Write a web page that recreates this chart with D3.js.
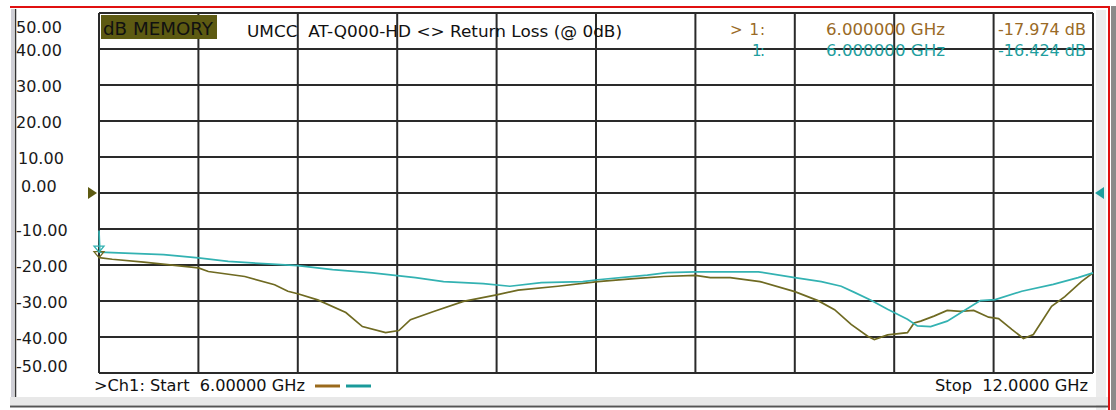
<!DOCTYPE html>
<html>
<head>
<meta charset="utf-8">
<script src="https://cdn.jsdelivr.net/npm/d3@7"></script>
<style>
  html, body { margin: 0; padding: 0; background: #fff; }
  #svg-container { width: 1116px; height: 410px; }
  svg { display: block; font-family: "DejaVu Sans", sans-serif; }
  text { white-space: pre; }
</style>
</head>
<body>
<div id="svg-container"></div>
<script>
////////////////////////////////////////////////////////////////////
////////////////////////////  Data  ////////////////////////////////
// memory trace (olive), [GHz, dB]
const memoryTrace = [
  [6.00, -17.97], [6.08, -18.4], [6.27, -19.2], [6.60, -20.8], [6.66, -21.8],
  [6.88, -23.2], [7.06, -25.5], [7.14, -27.3], [7.20, -28.0], [7.32, -29.7],
  [7.49, -33.2], [7.59, -37.1], [7.73, -38.8], [7.81, -38.2], [7.88, -35.2],
  [8.02, -32.9], [8.20, -30.1], [8.40, -28.3], [8.53, -27.0], [8.77, -25.9],
  [9.01, -24.6], [9.23, -23.8], [9.41, -23.2], [9.60, -22.9], [9.69, -23.5],
  [9.81, -23.5], [9.99, -24.6], [10.20, -27.4], [10.34, -29.9], [10.44, -32.4],
  [10.54, -36.5], [10.64, -39.8], [10.68, -40.7], [10.76, -39.4], [10.88, -38.8],
  [10.92, -36.1], [10.96, -35.6], [11.04, -34.2], [11.12, -32.6], [11.20, -32.9],
  [11.28, -32.6], [11.37, -34.5], [11.43, -34.9], [11.51, -37.9], [11.58, -40.4],
  [11.64, -39.3], [11.75, -31.5], [11.83, -28.8], [11.93, -24.6], [12.00, -22.2]
];

// live trace (teal), [GHz, dB]
const dataTrace = [
  [6.00, -10.4], [6.005, -16.42], [6.39, -17.1], [6.60, -18.0], [6.78, -19.0],
  [7.02, -19.7], [7.20, -20.2], [7.41, -21.3], [7.65, -22.2], [7.91, -23.5],
  [8.08, -24.6], [8.32, -25.2], [8.48, -25.9], [8.67, -24.9], [8.92, -24.6],
  [9.01, -24.1], [9.31, -22.8], [9.43, -22.1], [9.60, -21.9], [9.98, -21.9],
  [10.20, -23.5], [10.36, -24.6], [10.48, -25.9], [10.56, -27.6], [10.66, -29.8],
  [10.76, -32.3], [10.88, -35.1], [10.94, -36.9], [11.02, -37.1], [11.12, -35.6],
  [11.25, -31.9], [11.32, -29.9], [11.41, -29.6], [11.57, -27.3], [11.76, -25.4],
  [11.91, -23.5], [12.00, -22.2]
];

// markers
const markerFreq = 6.0;
const markerValues = [-17.974, -16.424];

// ticks
const freqTicks = [6.0, 6.6, 7.2, 7.8, 8.4, 9.0, 9.6, 10.2, 10.8, 11.4, 12.0];
const dbTicks = [50, 40, 30, 20, 10, 0, -10, -20, -30, -40, -50];

////////////////////////////////////////////////////////////////////
////////////////////////////  Init  ////////////////////////////////
const svg = d3.select("#svg-container").append("svg")
  .attr("width", 1116).attr("height", 410);

const plot = { left: 99, right: 1093, top: 13, bottom: 373 };

const memColor = "#6f6a22";
const liveColor = "#33b2b2";
const memText = "#9a6a26";
const liveText = "#1f9e9e";

const xScale = d3.scaleLinear().domain([6, 12]).range([plot.left, plot.right]);
const yScale = d3.scaleLinear().domain([-50, 50]).range([plot.bottom, plot.top]);

const line = d3.line()
  .x((d) => xScale(d[0]))
  .y((d) => yScale(d[1]));

// window frame
svg.append("rect").attr("x", 1096).attr("y", 10).attr("width", 10).attr("height", 400).attr("fill", "#ececec");
svg.append("rect").attr("x", 10).attr("y", 397).attr("width", 1098).attr("height", 8).attr("fill", "#e8e8e8");
svg.append("line").attr("x1", 10).attr("x2", 1108).attr("y1", 406.5).attr("y2", 406.5)
  .attr("stroke", "#555").attr("stroke-width", 2);
svg.append("line").attr("x1", 12.5).attr("x2", 12.5).attr("y1", 9).attr("y2", 397)
  .attr("stroke", "#cfcfd6").attr("stroke-width", 3);
svg.append("line").attr("x1", 15.5).attr("x2", 15.5).attr("y1", 9).attr("y2", 397)
  .attr("stroke", "#333").attr("stroke-width", 1.5);
svg.append("line").attr("x1", 10).attr("x2", 1110).attr("y1", 7).attr("y2", 7)
  .attr("stroke", "#e01010").attr("stroke-width", 2);
svg.append("line").attr("x1", 1109).attr("x2", 1109).attr("y1", 6).attr("y2", 410)
  .attr("stroke", "#e01010").attr("stroke-width", 2);
svg.append("rect").attr("x", 1111).attr("y", 6).attr("width", 5).attr("height", 404).attr("fill", "#8a8a8a");

////////////////////////////////////////////////////////////////////
////////////////////////////  Grid  ////////////////////////////////
const grid = svg.append("g").attr("stroke", "#2a2a2a").attr("stroke-width", 2);

grid.selectAll(".vx").data(freqTicks).join("line")
  .attr("x1", (d) => xScale(d)).attr("x2", (d) => xScale(d))
  .attr("y1", plot.top).attr("y2", plot.bottom);

grid.selectAll(".hy").data(dbTicks).join("line")
  .attr("x1", plot.left).attr("x2", plot.right)
  .attr("y1", (d) => yScale(d)).attr("y2", (d) => yScale(d));

// y labels (VNA style: kept inside the plot height)
svg.append("g").selectAll("text").data(dbTicks).join("text")
  .attr("x", (d) => (d === 0 ? 21 : d === 10 ? 18 : 16))
  .attr("y", (d) => {
    let y = yScale(d) + 7;
    if (d === 0) y -= 8;
    return Math.max(33, Math.min(372, y));
  })
  .attr("font-size", 16)
  .attr("fill", "#1a1a1a")
  .text((d) => d.toFixed(2));

////////////////////////////////////////////////////////////////////
////////////////////////////  Header  //////////////////////////////
svg.append("rect").attr("x", 101).attr("y", 15).attr("width", 116).attr("height", 24).attr("fill", "#5d5a12");
svg.append("text").attr("x", 103).attr("y", 35).attr("font-size", 17)
  .attr("textLength", 110).attr("lengthAdjust", "spacingAndGlyphs")
  .attr("fill", "#111").text("dB MEMORY");

svg.append("text").attr("x", 247).attr("y", 37).attr("font-size", 15)
  .attr("textLength", 375).attr("lengthAdjust", "spacingAndGlyphs")
  .attr("fill", "#111")
  .text("UMCC  AT-Q000-HD <> Return Loss (@ 0dB)");

const rows = [
  { label: "> 1:", lx: 730, lw: 35, color: memText, y: 35 },
  { label: "1:", lx: 752, lw: 13, color: liveText, y: 56 }
];
rows.forEach((r, i) => {
  const g = svg.append("g").attr("fill", r.color).attr("font-size", 15);
  g.append("text").attr("x", r.lx).attr("y", r.y).attr("textLength", r.lw).text(r.label);
  g.append("text").attr("x", 826).attr("y", r.y).attr("textLength", 119)
    .attr("lengthAdjust", "spacingAndGlyphs")
    .text(markerFreq.toFixed(6) + " GHz");
  g.append("text").attr("x", 998).attr("y", r.y).attr("textLength", 88)
    .attr("lengthAdjust", "spacingAndGlyphs")
    .text(markerValues[i].toFixed(3) + " dB");
});

////////////////////////////////////////////////////////////////////
////////////////////////////  Traces  //////////////////////////////
svg.append("path").datum(memoryTrace)
  .attr("d", line).attr("fill", "none")
  .attr("stroke", memColor).attr("stroke-width", 1.7);

svg.append("path").datum(dataTrace)
  .attr("d", line).attr("fill", "none")
  .attr("stroke", liveColor).attr("stroke-width", 1.7);

// marker triangles at start
[[markerValues[0], memColor], [markerValues[1], liveColor]].forEach(([v, c]) => {
  const x = xScale(markerFreq), y = yScale(v);
  svg.append("path")
    .attr("d", `M${x},${y} L${x - 5},${y - 6} L${x + 5},${y - 6} Z`)
    .attr("fill", "none").attr("stroke", c).attr("stroke-width", 1.3);
});

// reference level arrows
const y0 = yScale(0);
svg.append("path")
  .attr("d", `M${plot.left - 11},${y0 - 6} L${plot.left - 2},${y0} L${plot.left - 11},${y0 + 6} Z`)
  .attr("fill", "#5d5a12");
svg.append("path")
  .attr("d", `M${plot.right + 11},${y0 - 6} L${plot.right + 2},${y0} L${plot.right + 11},${y0 + 6} Z`)
  .attr("fill", liveText);

////////////////////////////////////////////////////////////////////
////////////////////////////  Footer  //////////////////////////////
svg.append("text").attr("x", 94).attr("y", 391).attr("font-size", 15)
  .attr("textLength", 211).attr("lengthAdjust", "spacingAndGlyphs").attr("fill", "#111")
  .text(">Ch1: Start  6.00000 GHz");
svg.append("line").attr("x1", 315).attr("x2", 340).attr("y1", 386).attr("y2", 386)
  .attr("stroke", "#9a6a1c").attr("stroke-width", 3);
svg.append("line").attr("x1", 346).attr("x2", 371).attr("y1", 386).attr("y2", 386)
  .attr("stroke", "#1a9a9a").attr("stroke-width", 3);
svg.append("text").attr("x", 935).attr("y", 391).attr("font-size", 15)
  .attr("textLength", 153).attr("lengthAdjust", "spacingAndGlyphs").attr("fill", "#111")
  .text("Stop  12.0000 GHz");
</script>
</body>
</html>
